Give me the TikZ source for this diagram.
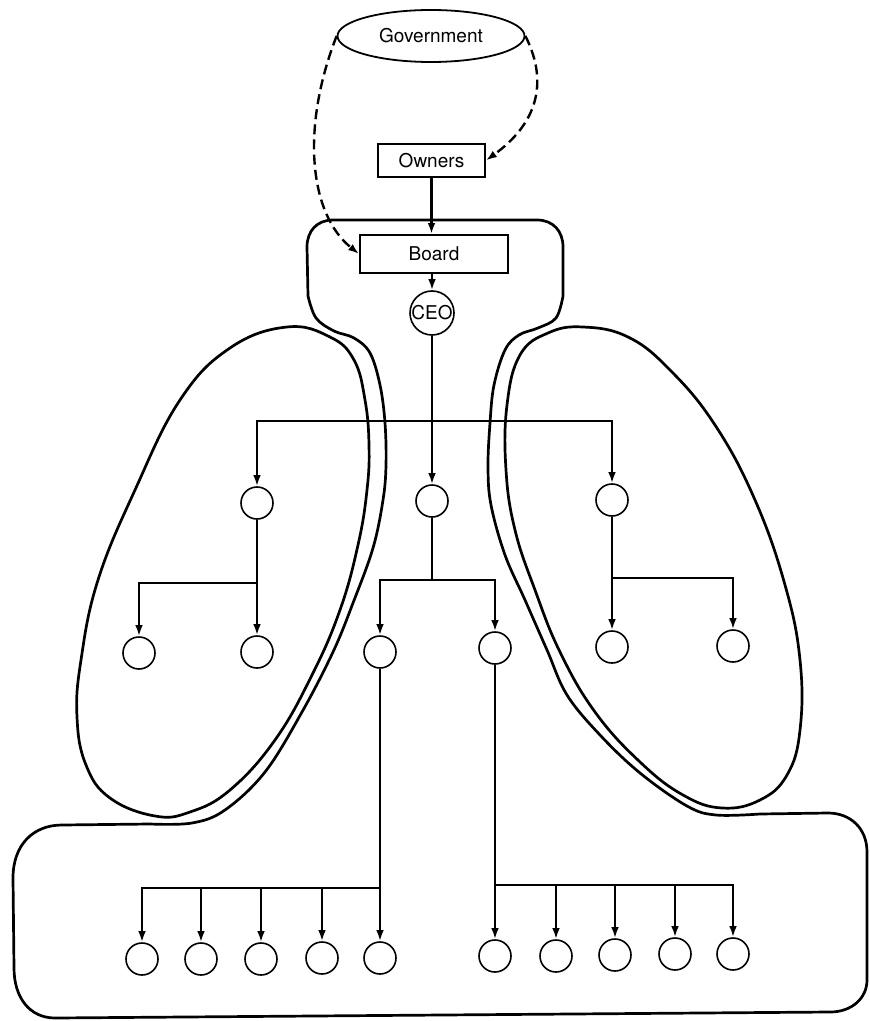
\documentclass[tikz,border=0pt]{standalone}
\usepackage{fontspec}
\setmainfont{TeX Gyre Heros}
\usetikzlibrary{arrows.meta,shapes.geometric}
\begin{document}
\begin{tikzpicture}[x=0.5pt,y=-0.5pt,
  font=\fontsize{9.5}{11}\selectfont,
  unit/.style={circle,draw,line width=0.8pt,minimum size=16pt,inner sep=0pt},
  box/.style={rectangle,draw,line width=0.9pt,inner sep=0pt},
  link/.style={line width=1.2pt},
  arr/.style={link,-{Latex[length=5.5pt,width=3.8pt]}},
  govlink/.style={line width=1.2pt,dash pattern=on 5pt off 2.6pt,-{Latex[length=5.5pt,width=3.8pt]}},
  outline/.style={line width=1.35pt,line join=round}
]
\useasboundingbox (0,0) rectangle (869,1021);

% top nodes
\node[ellipse,draw,line width=0.9pt,minimum width=93.5pt,minimum height=26pt,inner sep=0pt] (gov) at (431,36) {Government};
\node[box,minimum width=53.5pt,minimum height=16.5pt] (own) at (431.5,160.5) {Owners};
\node[box,minimum width=74pt,minimum height=19pt] (board) at (434,254) {Board};
\node[unit,minimum size=22pt] (ceo) at (432,313) {CEO};

% middle level
\node[unit] (m1) at (257,503) {};
\node[unit] (m2) at (432,501) {};
\node[unit] (m3) at (612,500) {};
% third level
\node[unit] (l1) at (139,653) {};
\node[unit] (l2) at (257,652) {};
\node[unit] (c1) at (380,652) {};
\node[unit] (c2) at (495,648) {};
\node[unit] (r1) at (612,647) {};
\node[unit] (r2) at (733,646) {};
% bottom level
\node[unit] (b1) at (142,959) {};
\node[unit] (b2) at (201,959) {};
\node[unit] (b3) at (261,959) {};
\node[unit] (b4) at (322,958) {};
\node[unit] (b5) at (380,958) {};
\node[unit] (b6) at (495,956) {};
\node[unit] (b7) at (556,956) {};
\node[unit] (b8) at (615,955) {};
\node[unit] (b9) at (675,954) {};
\node[unit] (b10) at (733,954) {};

% junctions
\coordinate (j1) at (432,421);
\coordinate (j2) at (257,583);
\coordinate (j3) at (612,578);
\coordinate (j4) at (432,580);
\coordinate (j5) at (380,888);
\coordinate (j6) at (495,885);

% connectors
\draw[arr] (own) -- (own |- board.north);
\draw[arr] (board.south -| ceo) -- (ceo);
\draw[arr] (ceo) -- (m2);
\draw[arr] (j1) -| (m1);
\draw[arr] (j1) -| (m3);
\draw[arr] (m1) -- (l2);
\draw[arr] (j2) -| (l1);
\draw[arr] (m3) -- (r1);
\draw[arr] (j3) -| (r2);
\draw[link] (m2) -- (j4);
\draw[arr] (j4) -| (c1);
\draw[arr] (j4) -| (c2);
\draw[arr] (c1) -- (b5);
\foreach \n in {b1,b2,b3,b4} \draw[arr] (j5) -| (\n);
\draw[arr] (c2) -- (b6);
\foreach \n in {b7,b8,b9,b10} \draw[arr] (j6) -| (\n);

% dashed government links
\draw[govlink] (gov.west) .. controls (300,130) and (310,215) .. (board.west);
\draw[govlink] (gov.east) .. controls (550,85) and (535,125) .. (own.east);

% organisation outline
\draw[outline] (333,220) -- (537,220) .. controls (553,220) and (563,231) .. (563,247)
 -- plot[smooth,tension=0.6] coordinates {(563,296) (556,318) (538,328) (519,335) (505,350) (494,385) (490,423) (488,467) (491,505) (505,555) (525,600) (547,650) (567,695) (600,735) (640,773) (687,806) (716,815) (760,814)}
 -- (828,813) .. controls (850,813) and (867,828) .. (867,852)
 -- (867,980) .. controls (867,998) and (852,1012) .. (830,1012)
 -- (55,1018) .. controls (30,1018) and (14,998) .. (14,968)
 -- (13,878) .. controls (13,845) and (33,825) .. (62,825)
 -- plot[smooth,tension=0.6] coordinates {(150,824) (192,823) (225,810) (265,772) (302,712) (333,652) (353,603) (373,548) (383,500) (386,465) (385,423) (380,385) (370,353) (354,338) (334,331) (316,318) (308,296)}
 -- (307,247) .. controls (307,231) and (317,220) .. (333,220) -- cycle;

% left support ellipse
\draw[outline] plot[smooth cycle,tension=0.7] coordinates {(287,327) (330,337) (354,360) (365,400) (369,445) (367,490) (358,545) (340,610) (312,675) (275,740) (230,790) (190,812) (155,816) (110,798) (86,765) (77,717) (81,660) (98,580) (135,490) (180,400) (230,348)};

% right support ellipse
\draw[outline] plot[smooth cycle,tension=0.7] coordinates {(583,327) (628,337) (670,370) (715,425) (755,500) (785,585) (800,660) (800,730) (787,775) (760,800) (722,808) (683,795) (640,762) (595,712) (560,652) (535,590) (515,530) (506,470) (507,405) (520,355) (548,333)};
\end{tikzpicture}
\end{document}
